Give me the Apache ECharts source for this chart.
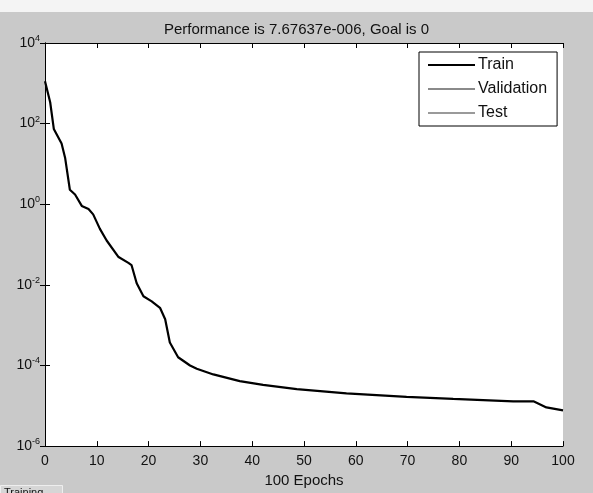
<!DOCTYPE html>
<html>
<head>
<meta charset="utf-8">
<script src="https://cdn.jsdelivr.net/npm/echarts@6/dist/echarts.min.js"></script>
<style>
  html, body { margin: 0; padding: 0; background: #c9c9c9; }
  #chart { width: 593px; height: 493px; }
</style>
</head>
<body>
<div id="chart"></div>
<script>
  // training curve (epoch, performance)
  const epochs = [0, 1.0, 1.7, 3.2, 3.9, 4.8, 5.8, 7.1, 8.4, 9.3, 10.6, 11.9, 14.2, 16.1, 16.7, 17.7,
    19.0, 20.6, 22.2, 23.2, 24.1, 25.7, 28.0, 29.3, 32.5, 37.6, 42.1, 48.6, 58.2, 69.8, 78.8, 90.4,
    94.3, 96.8, 100]
  const trainPerf = [1120, 339, 74, 32, 13.8, 2.29, 1.74, 0.91, 0.76, 0.56, 0.245, 0.126, 0.049,
    0.035, 0.031, 0.011, 0.0052, 0.0039, 0.0027, 0.0014, 3.7e-4, 1.6e-4, 1.0e-4, 8.3e-5, 6.0e-5,
    4.1e-5, 3.3e-5, 2.6e-5, 2.04e-5, 1.66e-5, 1.48e-5, 1.29e-5, 1.29e-5, 9.1e-6, 7.68e-6]
  const validationPerf = []
  const testPerf = []
  const seriesNames = ['Train', 'Validation', 'Test']
  const titleText = 'Performance is 7.67637e-006, Goal is 0'
  const xAxisName = '100 Epochs'

  const FONT = 'Liberation Sans, Arial, sans-serif'

  const chart = echarts.init(document.getElementById('chart'))

  function logLabel(value) {
    const exp = Math.round(Math.log10(value))
    return '{b|10}{e|' + exp + '}'
  }

  const baseX = {
    type: 'value',
    min: 0,
    max: 100,
    interval: 10,
    axisLine: { show: true, lineStyle: { color: '#000', width: 1 } },
    axisTick: { show: true, inside: true, length: 5, lineStyle: { color: '#000' } },
    splitLine: { show: false }
  }

  // log axis: interval counted in decades, min exponent -6 is a multiple of 2
  const baseY = {
    type: 'log',
    logBase: 10,
    min: 1e-6,
    max: 1e4,
    interval: 2,
    axisLine: { show: true, lineStyle: { color: '#000', width: 1 } },
    axisTick: { show: true, inside: true, length: 5, lineStyle: { color: '#000' } },
    splitLine: { show: false },
    minorTick: { show: false }
  }

  chart.setOption({
    backgroundColor: '#c9c9c9',
    animation: false,
    title: {
      text: titleText,
      left: 'center',
      top: 17,
      textStyle: { fontFamily: FONT, fontSize: 15, fontWeight: 'normal', color: '#111' }
    },
    graphic: [
      { type: 'rect', left: 0, top: 0, shape: { width: 593, height: 12 }, style: { fill: '#f4f4f4' }, z: -1 },
      { type: 'rect', left: 0, top: 485, shape: { width: 62, height: 12 },
        style: { fill: '#d6d6d6', stroke: '#eeeeee', lineWidth: 1 } },
      { type: 'text', left: 4, top: 487, style: { text: 'Training', fontFamily: FONT, fontSize: 11, fill: '#111' } }
    ],
    grid: { left: 45, right: 30, top: 43, bottom: 41, show: true, backgroundColor: '#fff', borderWidth: 0 },
    legend: {
      orient: 'vertical',
      left: 419,
      top: 52,
      padding: [5, 10, 5, 8],
      itemGap: 8,
      itemWidth: 47,
      itemHeight: 15,
      backgroundColor: '#fff',
      borderColor: '#000',
      borderWidth: 1,
      data: seriesNames,
      itemStyle: { opacity: 0 },
      textStyle: { fontFamily: FONT, fontSize: 16, color: '#111', padding: [0, 0, 0, -2] }
    },
    xAxis: [
      Object.assign({}, baseX, {
        position: 'bottom',
        name: xAxisName,
        nameLocation: 'middle',
        nameGap: 26,
        nameTextStyle: { fontFamily: FONT, fontSize: 15, color: '#111' },
        axisLabel: { fontFamily: FONT, fontSize: 14, color: '#111', margin: 8 }
      }),
      Object.assign({}, baseX, { position: 'top', axisLabel: { show: false } })
    ],
    yAxis: [
      Object.assign({}, baseY, {
        position: 'left',
        axisLabel: {
          margin: 5,
          formatter: logLabel,
          rich: {
            b: { fontFamily: FONT, fontSize: 14, color: '#111' },
            e: { fontFamily: FONT, fontSize: 9, color: '#111', padding: [0, 0, 9, 0] }
          }
        }
      }),
      Object.assign({}, baseY, { position: 'right', axisLabel: { show: false } })
    ],
    series: [
      {
        name: seriesNames[0],
        type: 'line',
        symbol: 'none',
        data: epochs.map((e, i) => [e, trainPerf[i]]),
        lineStyle: { color: '#000', width: 2.2 },
        itemStyle: { color: '#000' }
      },
      {
        name: seriesNames[1],
        type: 'line',
        symbol: 'none',
        data: validationPerf,
        lineStyle: { color: '#8a8a8a', width: 1.6 },
        itemStyle: { color: '#8a8a8a' }
      },
      {
        name: seriesNames[2],
        type: 'line',
        symbol: 'none',
        data: testPerf,
        lineStyle: { color: '#9a9a9a', width: 1 },
        itemStyle: { color: '#9a9a9a' }
      }
    ]
  })
</script>
</body>
</html>
